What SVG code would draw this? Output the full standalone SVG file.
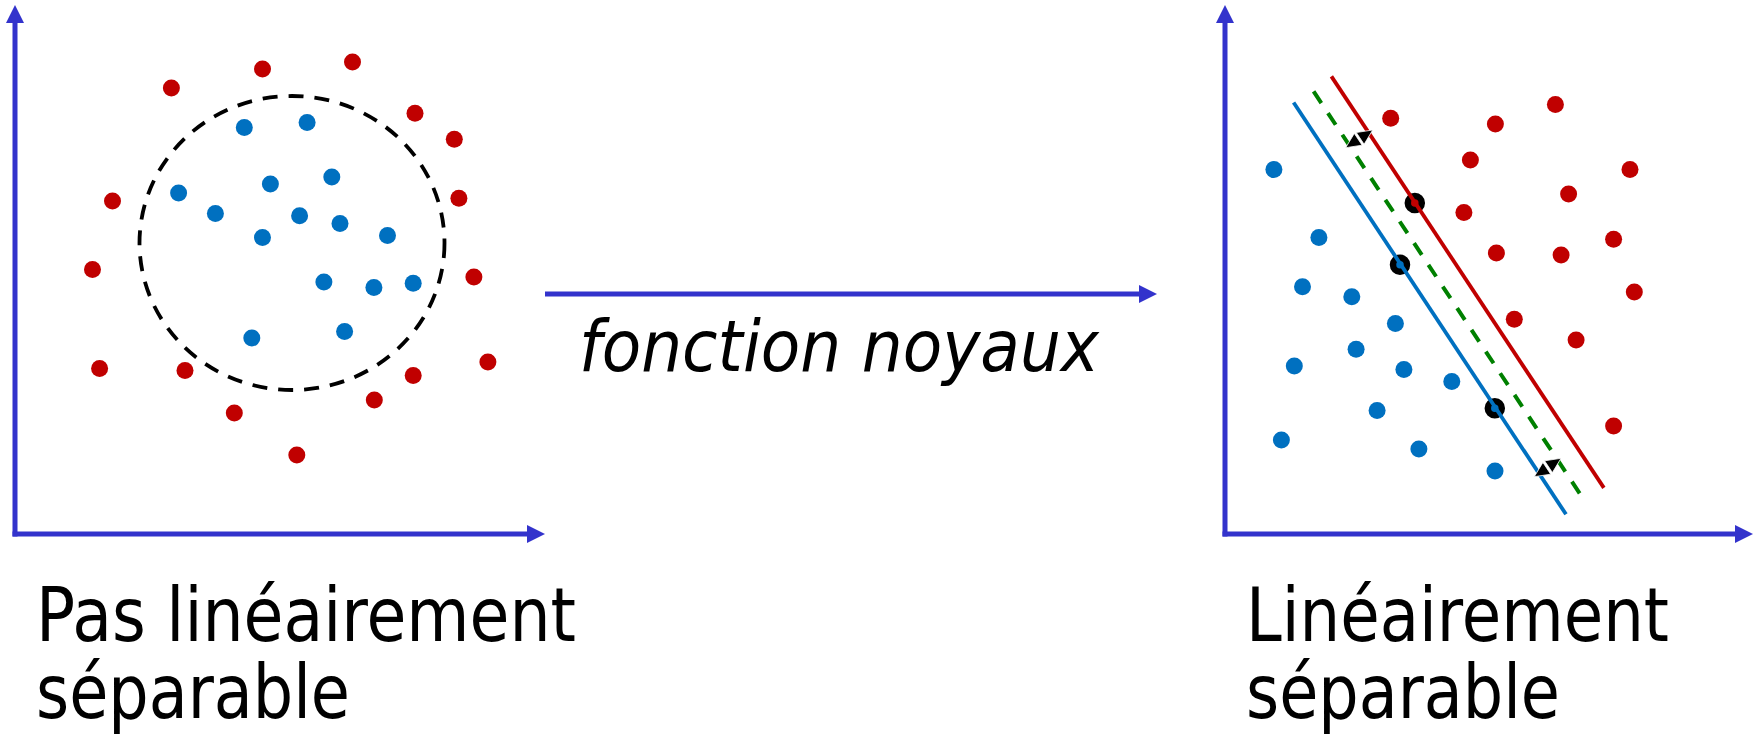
<svg xmlns="http://www.w3.org/2000/svg" width="1760" height="741" viewBox="0 0 1760 741">
  <style>
    .axis { stroke: #3333cc; stroke-width: 5; fill: none; }
    .head { fill: #3333cc; }
    .r { fill: #c00000; }
    .b { fill: #0070c0; }
    .sv-r { fill: #c00000; stroke: #000; stroke-width: 6.5; }
    .sv-b { fill: #0070c0; stroke: #000; stroke-width: 6.5; }
    .boundary { fill: none; stroke: #000; stroke-width: 3.8; stroke-dasharray: 15 11; }
    .margin-r { stroke: #c00000; stroke-width: 3.8; }
    .margin-b { stroke: #0070c0; stroke-width: 3.8; }
    .hyper { stroke: #008000; stroke-width: 4; stroke-dasharray: 14 12; }
    .dbl { fill: #000; stroke: #fff; stroke-width: 0.8; }
    .label { font-family: "DejaVu Sans", Verdana, sans-serif; font-size: 75px; fill: #000; }
    .kernel { font-family: "DejaVu Sans", Verdana, sans-serif; font-size: 72px; font-style: italic; fill: #000; }
  </style>

  <!-- input space: axes -->
  <g id="left-axes">
    <line class="axis" x1="15" y1="536.5" x2="15" y2="20"/>
    <polygon class="head" points="15,5 6,23 24,23"/>
    <line class="axis" x1="12.5" y1="534" x2="530" y2="534"/>
    <polygon class="head" points="545,534 527,525 527,543"/>
  </g>

  <!-- circular boundary -->
  <g id="left-boundary">
    <ellipse class="boundary" cx="292" cy="243" rx="152.5" ry="147"/>
  </g>

  <g id="left-points">
    <circle class="r" cx="171.4" cy="87.9" r="8.5"/>
    <circle class="r" cx="262.5" cy="68.9" r="8.5"/>
    <circle class="r" cx="352.5" cy="62.1" r="8.5"/>
    <circle class="r" cx="415" cy="113.2" r="8.5"/>
    <circle class="r" cx="454.3" cy="139.3" r="8.5"/>
    <circle class="r" cx="112.5" cy="201" r="8.5"/>
    <circle class="r" cx="458.9" cy="198.2" r="8.5"/>
    <circle class="r" cx="92.5" cy="269.6" r="8.5"/>
    <circle class="r" cx="473.9" cy="277.1" r="8.5"/>
    <circle class="r" cx="99.6" cy="368.6" r="8.5"/>
    <circle class="r" cx="185" cy="370.4" r="8.5"/>
    <circle class="r" cx="487.9" cy="362.1" r="8.5"/>
    <circle class="r" cx="413.2" cy="375.4" r="8.5"/>
    <circle class="r" cx="374.3" cy="400" r="8.5"/>
    <circle class="r" cx="234.3" cy="412.9" r="8.5"/>
    <circle class="r" cx="296.8" cy="455" r="8.5"/>

    <circle class="b" cx="244.3" cy="127.5" r="8.5"/>
    <circle class="b" cx="307.1" cy="122.5" r="8.5"/>
    <circle class="b" cx="178.6" cy="192.9" r="8.5"/>
    <circle class="b" cx="270.4" cy="183.9" r="8.5"/>
    <circle class="b" cx="331.8" cy="177.1" r="8.5"/>
    <circle class="b" cx="215.4" cy="213.6" r="8.5"/>
    <circle class="b" cx="299.6" cy="215.7" r="8.5"/>
    <circle class="b" cx="340" cy="223.6" r="8.5"/>
    <circle class="b" cx="262.5" cy="237.5" r="8.5"/>
    <circle class="b" cx="387.5" cy="235.4" r="8.5"/>
    <circle class="b" cx="323.9" cy="282.1" r="8.5"/>
    <circle class="b" cx="373.9" cy="287.5" r="8.5"/>
    <circle class="b" cx="413.2" cy="283.2" r="8.5"/>
    <circle class="b" cx="251.8" cy="337.9" r="8.5"/>
    <circle class="b" cx="344.6" cy="331.4" r="8.5"/>
  </g>

  <!-- mapping arrow -->
  <g id="connectors">
    <line class="axis" x1="545" y1="294" x2="1142" y2="294"/>
    <polygon class="head" points="1157,294 1139,285 1139,303"/>
  </g>
  <g id="kernel-label">
    <text class="kernel" x="579" y="371" textLength="520" lengthAdjust="spacingAndGlyphs">fonction noyaux</text>
  </g>

  <!-- feature space: axes -->
  <g id="right-axes">
    <line class="axis" x1="1225" y1="536.5" x2="1225" y2="20"/>
    <polygon class="head" points="1225,5 1216,23 1234,23"/>
    <line class="axis" x1="1222.5" y1="534" x2="1738" y2="534"/>
    <polygon class="head" points="1753,534 1735,525 1735,543"/>
  </g>

  <g id="right-points">
    <circle class="r" cx="1390.7" cy="118.2" r="8.5"/>
    <circle class="r" cx="1495.4" cy="123.9" r="8.5"/>
    <circle class="r" cx="1555.4" cy="104.6" r="8.5"/>
    <circle class="r" cx="1470.4" cy="160" r="8.5"/>
    <circle class="r" cx="1630" cy="169.6" r="8.5"/>
    <circle class="r" cx="1568.6" cy="193.9" r="8.5"/>
    <circle class="r" cx="1463.9" cy="212.5" r="8.5"/>
    <circle class="r" cx="1613.6" cy="239.3" r="8.5"/>
    <circle class="r" cx="1496.4" cy="252.9" r="8.5"/>
    <circle class="r" cx="1561.1" cy="255" r="8.5"/>
    <circle class="r" cx="1634.3" cy="292.1" r="8.5"/>
    <circle class="r" cx="1514.3" cy="319.3" r="8.5"/>
    <circle class="r" cx="1576.1" cy="340" r="8.5"/>
    <circle class="r" cx="1613.6" cy="426.1" r="8.5"/>

    <circle class="b" cx="1273.9" cy="169.6" r="8.5"/>
    <circle class="b" cx="1318.9" cy="237.5" r="8.5"/>
    <circle class="b" cx="1302.5" cy="286.8" r="8.5"/>
    <circle class="b" cx="1351.8" cy="296.8" r="8.5"/>
    <circle class="b" cx="1395.4" cy="323.6" r="8.5"/>
    <circle class="b" cx="1294.3" cy="366.1" r="8.5"/>
    <circle class="b" cx="1356.1" cy="349.3" r="8.5"/>
    <circle class="b" cx="1403.9" cy="369.6" r="8.5"/>
    <circle class="b" cx="1451.8" cy="381.4" r="8.5"/>
    <circle class="b" cx="1377.1" cy="410.4" r="8.5"/>
    <circle class="b" cx="1281.4" cy="440" r="8.5"/>
    <circle class="b" cx="1418.9" cy="448.9" r="8.5"/>
    <circle class="b" cx="1495" cy="471.1" r="8.5"/>
  </g>

  <!-- support vectors -->
  <g id="support-vectors">
    <circle class="sv-r" cx="1414.8" cy="202.9" r="7"/>
    <circle class="sv-b" cx="1400" cy="264.8" r="7"/>
    <circle class="sv-b" cx="1494.8" cy="408.2" r="7"/>
  </g>

  <!-- separating hyperplane and margins -->
  <g id="hyperplane">
    <line class="margin-r" x1="1331.4" y1="76.4" x2="1603.9" y2="487.9"/>
    <line class="hyper" x1="1313.6" y1="91.4" x2="1585" y2="501.4"/>
    <line class="margin-b" x1="1293.6" y1="102.5" x2="1566" y2="514.3"/>
  </g>

  <!-- margin width markers -->
  <g id="margin-arrows">
    <polygon class="dbl" points="1345.7,147.7 1362.1,145.2 1354.3,133.4"/>
    <polygon class="dbl" points="1372.7,130 1364.1,144.3 1356.3,132.5"/>
    <polygon class="dbl" points="1534.3,476.7 1550.7,474.2 1542.9,462.4"/>
    <polygon class="dbl" points="1561,458.3 1552.4,472.6 1544.6,460.8"/>
  </g>

  <g id="label-left">
    <text class="label" x="36" y="641" textLength="540" lengthAdjust="spacingAndGlyphs">Pas linéairement</text>
    <text class="label" x="36" y="718" textLength="314" lengthAdjust="spacingAndGlyphs">séparable</text>
  </g>
  <g id="label-right">
    <text class="label" x="1246" y="641" textLength="423" lengthAdjust="spacingAndGlyphs">Linéairement</text>
    <text class="label" x="1246" y="718" textLength="314" lengthAdjust="spacingAndGlyphs">séparable</text>
  </g>
</svg>
